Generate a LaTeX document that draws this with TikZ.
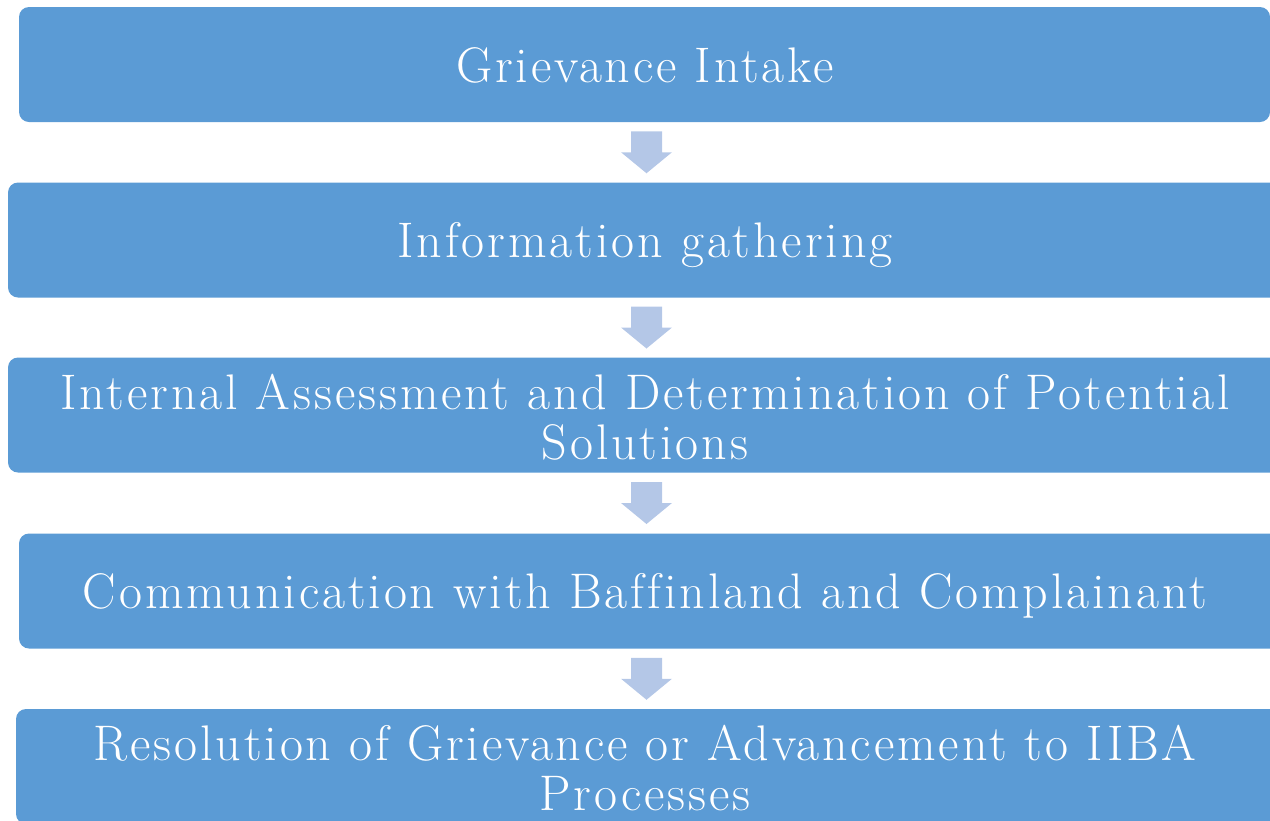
\documentclass[tikz,border=0pt]{standalone}
\usepackage{fontspec}
\setmainfont{Latin Modern Roman}[LetterSpace=5.8, Ligatures=NoCommon]
\usetikzlibrary{calc}
\definecolor{boxblue}{HTML}{5B9BD5}
\definecolor{arrowblue}{HTML}{B4C7E7}
\tikzset{
  stepbox/.style={rectangle, rounded corners=5pt, fill=boxblue, draw=none,
    minimum height=57.5pt, inner sep=0pt},
  steptext/.style={anchor=base, align=center, text=white, inner sep=0pt,
    font=\fontsize{25}{25}\selectfont},
  blockarrow/.pic={
    \fill[arrowblue] (-15.5,-21) -- (15.5,-21) -- (15.5,0) -- (25.5,0)
      -- (0,21) -- (-25.5,0) -- (-15.5,0) -- cycle;
  }
}
\begin{document}
\begin{tikzpicture}[x=0.5pt, y=-0.5pt]
  \useasboundingbox (0,0) rectangle (1270,820);
  \clip (0,0) rectangle (1270,820);

  % process boxes
  \node[stepbox, minimum width=625.5pt] (b1) at (644.5,64.5) {};
  \node[stepbox, minimum width=641pt]   (b2) at (649,240) {};
  \node[stepbox, minimum width=641pt]   (b3) at (649,415) {};
  \node[stepbox, minimum width=635.5pt] (b4) at (654.5,591) {};
  \node[stepbox, minimum width=637pt]   (b5) at (653,766.5) {};

  % labels
  \node[steptext] (t1) at (645,82) {Grievance Intake};
  \node[steptext] (t2) at (645,257) {Information gathering};
  \node[steptext] (t3) at (645,409) {Internal Assessment and Determination of Potential};
  \node[steptext] (t3b) at (645,459) {Solutions};
  \node[steptext] (t4) at (645,608) {Communication with Baffinland and Complainant};
  \node[steptext] (t5) at (645,760) {Resolution of Grievance or Advancement to IIBA};
  \node[steptext] (t5b) at (645,810) {Processes};

  % block arrows between consecutive boxes
  \foreach \a/\b in {b1/b2, b2/b3, b3/b4, b4/b5}{
    \coordinate (m) at ($(\a.south)!0.5!(\b.north)$);
    \pic at (646.5,0 |- m) {blockarrow};
  }
\end{tikzpicture}
\end{document}
